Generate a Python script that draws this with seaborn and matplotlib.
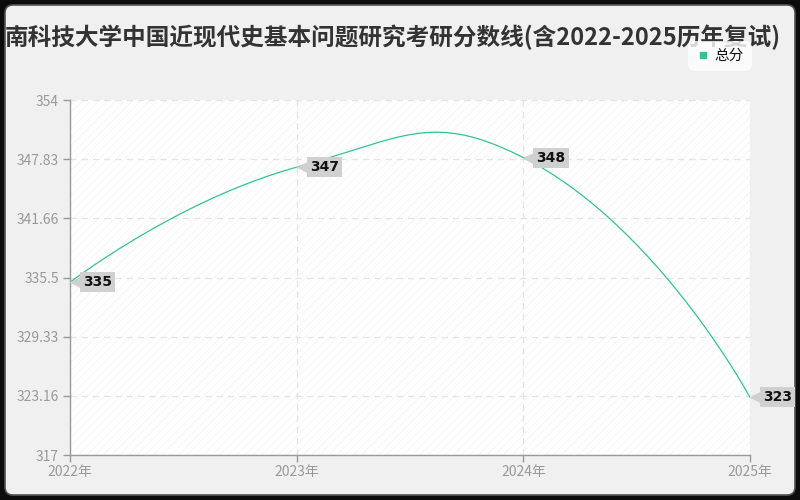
import numpy as np
import pandas as pd
import seaborn as sns
import matplotlib.pyplot as plt
from matplotlib.patches import FancyBboxPatch, Rectangle
from matplotlib.lines import Line2D
from matplotlib.transforms import offset_copy

# data
years = [2022, 2023, 2024, 2025]
year_labels = ['2022年', '2023年', '2024年', '2025年']
scores = [335, 347, 348, 323]
y_ticks = [317, 323.16, 329.33, 335.5, 341.66, 347.83, 354]
title = '南科技大学中国近现代史基本问题研究考研分数线(含2022-2025历年复试)'
series_name = '总分'

line_color = '#33c295'

sns.set_theme(style='white')
plt.rcParams['font.family'] = ['Noto Sans CJK SC', 'DejaVu Sans']
plt.rcParams['hatch.linewidth'] = 0.5

fig = plt.figure(figsize=(8, 5), dpi=100)
fig.patch.set_facecolor('#0c0c0c')

# rounded light panel inside the dark frame
panel = FancyBboxPatch((0.05, 0.05), 7.9, 4.9,
                       boxstyle='round,pad=0,rounding_size=0.08',
                       transform=fig.dpi_scale_trans,
                       facecolor='#f0f0f0', edgecolor='#555555', lw=1.2, zorder=-5)
fig.patches.append(panel)

# plot area in pixels: x 70..750, y 100..455
ax = fig.add_axes([70 / 800, 45 / 500, 680 / 800, 355 / 500])
ax.set_zorder(2)
ax.set_facecolor('white')
ax.add_patch(Rectangle((0, 0), 1, 1, transform=ax.transAxes, facecolor='white',
                       edgecolor='#f2f2f2', hatch='////', lw=0, zorder=0))

x_min, x_max = years[0], years[-1]
y_min, y_max = y_ticks[0], y_ticks[-1]

# echarts-like smooth curve computed in pixel space
sx = 680 / (x_max - x_min)
sy = 355 / (y_max - y_min)
px = np.array(years, float) * sx
py = np.array(scores, float) * sy
n = len(px)
smooth = 0.5
cp_in = np.zeros((n, 2))
cp_out = np.zeros((n, 2))
for i in range(n):
    p = np.array([px[i], py[i]])
    if i == 0 or i == n - 1:
        cp_in[i] = p
        cp_out[i] = p
        continue
    prev = np.array([px[i - 1], py[i - 1]])
    nxt = np.array([px[i + 1], py[i + 1]])
    v = nxt - prev
    l0 = np.hypot(*(p - prev))
    l1 = np.hypot(*(nxt - p))
    r = l1 / (l0 + l1)
    cp_out[i] = p + v * smooth * r
    cp_in[i] = p - v * smooth * (1 - r)

cx, cy = [], []
t = np.linspace(0, 1, 60)
for i in range(n - 1):
    p0 = np.array([px[i], py[i]])
    p3 = np.array([px[i + 1], py[i + 1]])
    p1, p2 = cp_out[i], cp_in[i + 1]
    for tt in t:
        b = ((1 - tt) ** 3) * p0 + 3 * ((1 - tt) ** 2) * tt * p1 + 3 * (1 - tt) * tt ** 2 * p2 + tt ** 3 * p3
        cx.append(b[0] / sx)
        cy.append(b[1] / sy)

curve = pd.DataFrame({'x': cx, 'y': cy})
sns.lineplot(data=curve, x='x', y='y', sort=False, estimator=None,
             color=line_color, lw=0.9, ax=ax, zorder=3)

# value labels: small left-pointing tag
tip_trans = offset_copy(ax.transData, fig=fig, x=7, y=0, units='dots')
for xv, yv in zip(years, scores):
    ax.plot([xv], [yv], marker='<', markersize=11, color='#d0d0d0', mec='none',
            transform=tip_trans, zorder=4, clip_on=False)
    ax.annotate(str(yv), (xv, yv), xytext=(13, 0), textcoords='offset pixels',
                ha='left', va='center', fontsize=10, fontweight='bold', color='#111111',
                family='DejaVu Sans',
                bbox=dict(boxstyle='square,pad=0.22', fc='#d0d0d0', ec='none'),
                zorder=5, annotation_clip=False)

ax.set_xlim(x_min, x_max)
ax.set_ylim(y_min, y_max)
ax.set_xticks(years)
ax.set_xticklabels(year_labels)
ax.set_yticks(y_ticks)
ax.set_yticklabels(['317', '323.16', '329.33', '335.5', '341.66', '347.83', '354'])
ax.set_xlabel('')
ax.set_ylabel('')

ax.grid(True, color='#e3e3e3', ls=(0, (5, 4)), lw=0.9)
ax.set_axisbelow(True)
for s in ['top', 'right']:
    ax.spines[s].set_visible(False)
for s in ['left', 'bottom']:
    ax.spines[s].set_color('#999999')
    ax.spines[s].set_linewidth(1)
ax.tick_params(axis='both', colors='#999999', labelcolor='#999999', labelsize=10,
               length=5, width=1, direction='out', left=True, bottom=True)
ax.tick_params(axis='x', pad=2)
ax.tick_params(axis='y', pad=3)

fig.text(781 / 800, 1 - 37 / 500, title, ha='right', va='center',
         fontsize=17, fontweight='bold', color='#333333')

handle = Line2D([], [], marker='s', ls='none', color=line_color, markersize=4)
leg = fig.legend([handle], [series_name], loc='center', bbox_to_anchor=(720 / 800, 1 - 56 / 500),
                 frameon=True, fontsize=10.5, handletextpad=0.3, borderpad=0.35,
                 handlelength=1.0, fancybox=True, labelcolor='#111111')
leg.get_frame().set_facecolor('white')
leg.get_frame().set_edgecolor('none')
leg.get_frame().set_boxstyle('round,pad=0.2,rounding_size=0.5')

fig.savefig('out.png', dpi=100, facecolor=fig.get_facecolor())
